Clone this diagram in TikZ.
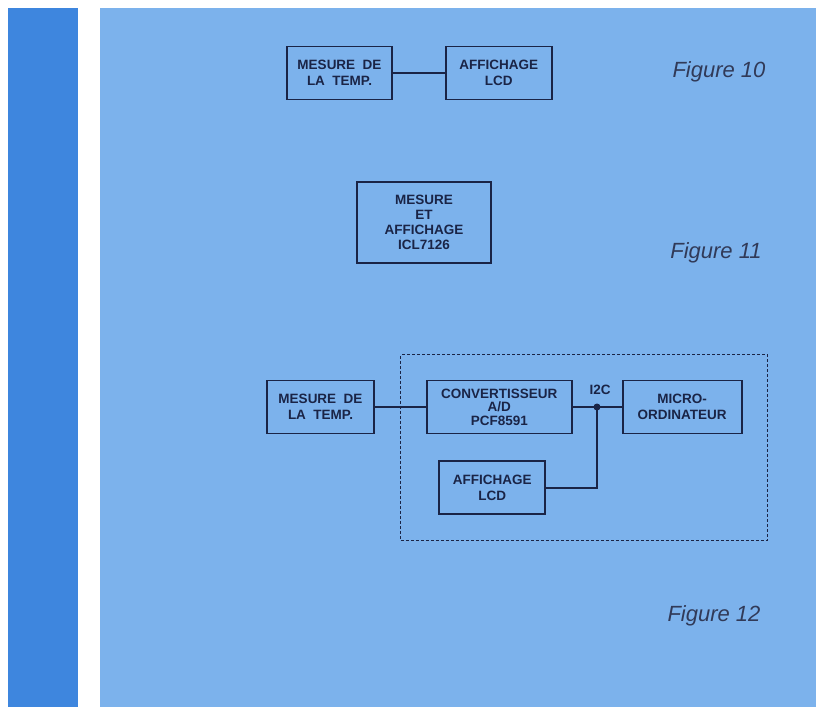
\documentclass[tikz,border=0pt]{standalone}
\usepackage{fontspec}
\setmainfont{Liberation Sans}
\usepackage{xcolor}
\usepackage{tikz}
\usetikzlibrary{positioning, fit}
\definecolor{panelblue}{RGB}{124,178,236}
\definecolor{stripblue}{RGB}{62,134,222}
\definecolor{ink}{RGB}{26,36,70}
\tikzset{
  unit/.style={rectangle, draw=ink, line width=1.8pt, align=center,
    text=ink, inner sep=2pt, minimum height=53pt,
    font=\fontsize{13.5}{16.5}\selectfont\bfseries},
  wire/.style={draw=ink, line width=1.8pt},
  junction/.style={circle, fill=ink, inner sep=0pt, minimum size=7pt},
  boundary/.style={draw=ink, line width=1.1pt, densely dashed},
  caption/.style={text=ink!90, font=\fontsize{22}{24}\selectfont\itshape}
}
\newcommand{\busname}[1]{{\fontsize{13.5}{16}\selectfont\bfseries #1}}

\begin{document}
\begin{tikzpicture}[x=1pt, y=-1pt, node distance=51pt]
  % page, strip and panel
  \useasboundingbox (0,0) rectangle (816,707);
  \fill[stripblue] (8,8) rectangle (78,707);
  \fill[panelblue] (100,8) rectangle (816,707);

  % Figure 10
  \node[unit, minimum width=105pt] (tempA) at (339.5,73) {MESURE\ \ DE\\LA\ \ TEMP.};
  \node[unit, minimum width=106pt, right=52pt of tempA] (lcdA) {AFFICHAGE\\LCD};
  \draw[wire] (tempA) -- (lcdA);
  \node[caption] (figA) at (719,72) {Figure 10};

  % Figure 11
  \node[unit, minimum width=134pt, minimum height=81pt,
    font=\fontsize{13.5}{15}\selectfont\bfseries] (icl) at (424,222.5) {MESURE\\ET\\AFFICHAGE\\ICL7126};
  \node[caption] (figB) at (716,253) {Figure 11};

  % Figure 12
  \node[unit, minimum width=107pt] (tempC) at (320.5,407) {MESURE\ \ DE\\LA\ \ TEMP.};
  \node[unit, minimum width=145pt, right=of tempC,
    font=\fontsize{13.5}{13.5}\selectfont\bfseries] (adc) {CONVERTISSEUR\\A/D\\PCF8591};
  \node[unit, minimum width=119pt, right=49pt of adc] (micro) {MICRO-\\ORDINATEUR};
  \node[unit, minimum width=106pt, below=26pt of adc, xshift=-7pt] (lcdC) {AFFICHAGE\\LCD};
  \node[junction] (bus) at (597,407) {};
  \node[text=ink, above=5pt of bus, xshift=3pt] (i2c) {\busname{I2C}};
  \draw[wire] (tempC) -- (adc);
  \draw[wire] (adc) -- (bus.center) -- (micro);
  \draw[wire] (lcdC.east) -| (bus.center);
  \node[boundary, inner sep=25pt, fit=(adc)(micro)(lcdC)] (board) {};
  \node[caption] (figC) at (714,616) {Figure 12};
\end{tikzpicture}
\end{document}
